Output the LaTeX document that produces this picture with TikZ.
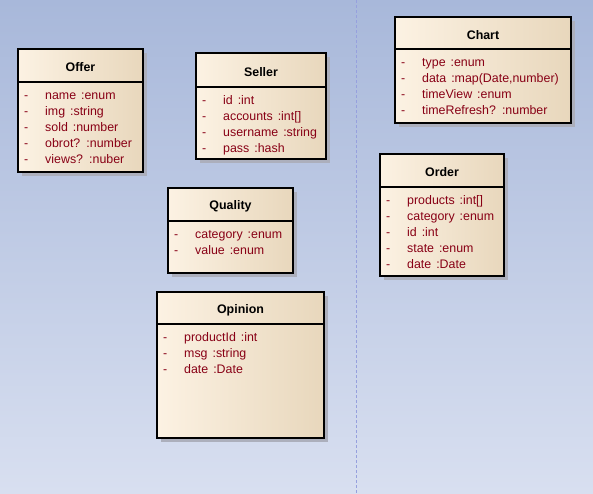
\documentclass[tikz,border=0pt]{standalone}
\usepackage{fontspec}
\setmainfont{Liberation Sans}
\definecolor{bgtop}{RGB}{168,184,218}
\definecolor{bgbot}{RGB}{216,223,240}
\definecolor{boxl}{RGB}{252,242,227}
\definecolor{boxm}{RGB}{250,239,222}
\definecolor{boxr}{RGB}{232,215,188}
\definecolor{attrc}{RGB}{136,0,21}
\definecolor{shadowc}{RGB}{172,175,188}
\definecolor{lanec}{RGB}{150,160,222}
\newcommand\ty{\hspace{1.5pt} :}
\tikzset{
 classbody/.style={rectangle, draw=black, line width=1.4pt, left color=boxl, middle color=boxm, right color=boxr, inner sep=0pt, outer sep=0pt},
 divline/.style={line width=1.3pt},
 classtitle/.style={font=\bfseries\fontsize{12.4}{14}\selectfont, inner sep=0pt},
 attrtext/.style={font=\fontsize{12.4}{14}\selectfont, text=attrc, anchor=base west, inner sep=0pt},
 lane/.style={draw=lanec, dash pattern=on 3pt off 2pt, line width=0.8pt}
}
\newcommand\classbox[8]{%
  \fill[shadowc] ({#2+4},{#3+4}) rectangle ({#4+4},{#5+4});
  \node[classbody, minimum width={(#4-#2)*1pt}, minimum height={(#5-#3)*1pt}, anchor=north west] (#1) at (#2,#3) {};
  \draw[divline] (#2,#6) -- (#4,#6);
  \node[classtitle] (#1-title) at ({(#2+#4)/2},{(#3+#6)/2+1.8}) {#7};
  \foreach \a [count=\i] in {#8} {
    \node[attrtext] (#1-dash\i) at ({#2+6},{#6+17.3+16*(\i-1)}) {-};
    \node[attrtext] (#1-attr\i) at ({#2+27},{#6+17.3+16*(\i-1)}) {\a};
  }
}
\begin{document}
\begin{tikzpicture}[x=1pt,y=-1pt]
\shade[top color=bgtop, bottom color=bgbot] (0,0) rectangle (593,493);
\useasboundingbox (0,0) rectangle (593,493);
\coordinate (laneTop) at (356,0);
\coordinate (laneBot) at (356,493);
\draw[lane] (laneTop) -- (laneBot);
\classbox{offer}{18}{49}{143}{172}{82}{Offer}{name\ty enum, img\ty string, sold\ty number, obrot?\ty number, views?\ty nuber}
\classbox{seller}{196}{53}{326}{159}{87}{Seller}{id\ty int, accounts\ty int[], username\ty string, pass\ty hash}
\classbox{quality}{168}{188}{293}{273}{221}{Quality}{category\ty enum, value\ty enum}
\classbox{opinion}{157}{292}{324}{438}{324}{Opinion}{productId\ty int, msg\ty string, date\ty Date}
\classbox{chart}{395}{17}{571}{123}{49}{Chart}{type\ty enum, {data\ty map(Date,number)}, timeView\ty enum, timeRefresh?\ty number}
\classbox{order}{380}{154}{504}{276}{187}{Order}{products\ty int[], category\ty enum, id\ty int, state\ty enum, date\ty Date}
\end{tikzpicture}
\end{document}
